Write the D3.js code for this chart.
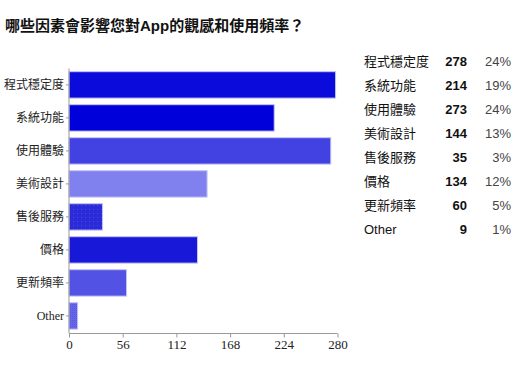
<!DOCTYPE html>
<html>
<head>
<meta charset="utf-8">
<script src="https://cdn.jsdelivr.net/npm/d3@7"></script>
<style>
  body { margin: 0; background: #fff; }
  svg { display: block; }
</style>
</head>
<body>
<div id="app"></div>
<script>
const categories = ["程式穩定度", "系統功能", "使用體驗", "美術設計", "售後服務", "價格", "更新頻率", "Other"];
const counts = [278, 214, 273, 144, 35, 134, 60, 9];
const percents = ["24%", "19%", "24%", "13%", "3%", "12%", "5%", "1%"];
const barColors = ["#0b0bdb", "#0000db", "#4242e2", "#8080ee", "#2b2bd9", "#1818d9", "#5252e4", "#6666e6"];
const ticks = [0, 56, 112, 168, 224, 280];

const width = 530, height = 376;
const serif = "'Liberation Serif', 'Noto Sans CJK TC', serif";
const sans = "'Liberation Sans', 'Noto Sans CJK TC', sans-serif";

const svg = d3.select("#app").append("svg")
  .attr("width", width)
  .attr("height", height);

// patterns for the two textured bars
const defs = svg.append("defs");
const dots = defs.append("pattern")
  .attr("id", "dots")
  .attr("width", 4).attr("height", 4)
  .attr("patternUnits", "userSpaceOnUse");
dots.append("rect").attr("width", 4).attr("height", 4).attr("fill", barColors[4]);
dots.append("rect").attr("x", 1).attr("y", 1).attr("width", 1).attr("height", 1).attr("fill", "#4a4ae0");

const hatch = defs.append("pattern")
  .attr("id", "hatch")
  .attr("width", 2).attr("height", 2)
  .attr("patternUnits", "userSpaceOnUse");
hatch.append("rect").attr("width", 2).attr("height", 2).attr("fill", barColors[7]);
hatch.append("rect").attr("width", 1).attr("height", 1).attr("fill", "#5656e2");

svg.append("text")
  .attr("x", 5)
  .attr("y", 31)
  .style("font-family", sans)
  .style("font-size", "15px")
  .style("font-weight", "bold")
  .attr("fill", "#111")
  .text("哪些因素會影響您對App的觀感和使用頻率？");

const x = d3.scaleLinear().domain([0, 280]).range([69, 337.5]);
const y = d3.scaleBand().domain(categories).range([68.4, 332.4]).paddingInner(0.2).paddingOuter(0.1);

const fillFor = (d, i) => i === 4 ? "url(#dots)" : i === 7 ? "url(#hatch)" : barColors[i];

svg.append("g")
  .selectAll("rect")
  .data(categories)
  .join("rect")
  .attr("x", x(0))
  .attr("y", d => y(d))
  .attr("width", (d, i) => x(counts[i]) - x(0))
  .attr("height", y.bandwidth())
  .attr("fill", fillFor)
  .attr("stroke", "#c4c4f6")
  .attr("stroke-width", 1);

// y axis
const yAxis = svg.append("g")
  .attr("transform", `translate(${x(0)},0)`)
  .call(d3.axisLeft(y).tickSize(3).tickPadding(2));
yAxis.select(".domain").attr("stroke", "#999").attr("d", `M0,${y.range()[0]}V${y.range()[1] + 1}`);
yAxis.selectAll(".tick line").attr("stroke", "#999");
yAxis.selectAll(".tick text")
  .style("font-family", serif)
  .style("font-size", "12px")
  .attr("fill", "#222");

// x axis
const xAxis = svg.append("g")
  .attr("transform", `translate(0,333.5)`)
  .call(d3.axisBottom(x).tickValues(ticks).tickSize(4).tickPadding(2));
xAxis.select(".domain").attr("stroke", "#999").attr("d", `M${x(0)},0H${x(280)}`);
xAxis.selectAll(".tick line").attr("stroke", "#999");
xAxis.selectAll(".tick text")
  .style("font-family", serif)
  .style("font-size", "13px")
  .attr("fill", "#222");

// summary table
const rowY = d3.scalePoint().domain(categories).range([61.7, 229.7]);
const table = svg.append("g")
  .style("font-family", sans)
  .style("font-size", "13px");

table.selectAll("text.lab")
  .data(categories)
  .join("text")
  .attr("class", "lab")
  .attr("x", 364)
  .attr("y", d => rowY(d))
  .attr("dy", "0.36em")
  .attr("fill", "#111")
  .text(d => d);

table.selectAll("text.cnt")
  .data(categories)
  .join("text")
  .attr("class", "cnt")
  .attr("x", 467)
  .attr("y", d => rowY(d))
  .attr("dy", "0.36em")
  .attr("text-anchor", "end")
  .style("font-weight", "bold")
  .attr("fill", "#111")
  .text((d, i) => counts[i]);

table.selectAll("text.pct")
  .data(categories)
  .join("text")
  .attr("class", "pct")
  .attr("x", 511)
  .attr("y", d => rowY(d))
  .attr("dy", "0.36em")
  .attr("text-anchor", "end")
  .attr("fill", "#444")
  .text((d, i) => percents[i]);
</script>
</body>
</html>
